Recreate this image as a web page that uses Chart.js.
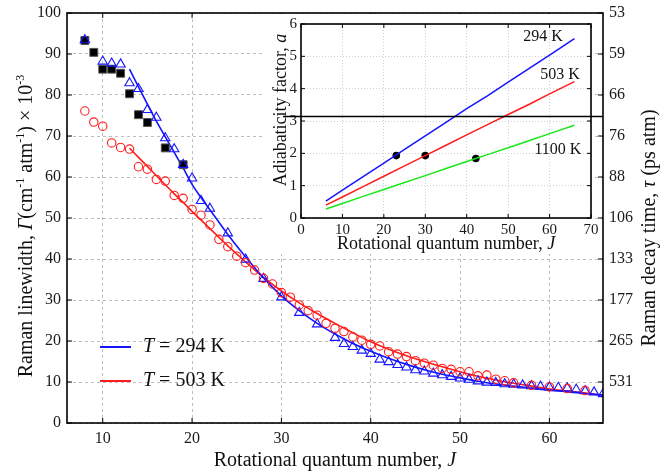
<!DOCTYPE html>
<html>
<head>
<meta charset="utf-8">
<script src="https://cdn.jsdelivr.net/npm/chart.js@4.4.0/dist/chart.umd.min.js"></script>
<style>
body { margin: 0; background: #fff; }
#wrap { position: relative; width: 670px; height: 472px; }
#main { position: absolute; left: 0; top: 0; }
#insetBox { position: absolute; left: 263px; top: 14px; width: 341px; height: 240px; }
</style>
</head>
<body>
<div id="wrap">
  <canvas id="main" width="670" height="472"></canvas>
  <div id="insetBox"><canvas id="inset" width="341" height="240"></canvas></div>
</div>
<script>
// main panel: linewidth vs J
const J294 = [8,10,11,12,13,14,15,16,17,18,19,20,21,22,24,26,28,30,32,34,36,37,38,39,40,41,42,43,44,45,46,47,48,49,50,51,52,53,54,55,56,57,58,59,60,61,62,63,64,65,66];
const G294 = [93.4,88.2,87.7,87.5,82.9,81.5,76.4,74.5,69.5,66.8,63,59.7,54.2,52.3,46.3,39.9,35.2,30.7,26.9,24.1,20.8,19.3,18.6,17.7,16.9,15.5,14.9,14.2,13.6,12.9,12.6,12.1,11.7,11.3,10.9,10.6,10.2,9.9,9.8,9.5,9.4,9.2,9.0,8.9,8.7,8.6,8.5,8.2,7.8,7.5,7.1];

const J503 = [8,9,10,11,12,13,14,15,16,17,18,19,20,21,22,23,24,25,26,27,28,29,30,31,32,33,34,35,36,37,38,39,40,41,42,43,44,45,46,47,48,49,50,51,52,53,54,55,56,58,60,62,64];
const G503 = [76.1,73.4,72.4,68.3,67.2,66.8,62.5,61.9,59.4,59.0,55.5,54.8,52.1,50.7,48.3,44.8,43.0,40.7,39.1,37.3,35.3,33.9,31.8,30.7,28.8,27.4,26.3,24.3,23.1,22.3,21.0,20.2,19.2,18.8,17.4,16.8,16.2,15.2,14.6,14.1,13.3,13.1,12.5,12.5,11.5,11.7,10.7,10.3,9.8,9.2,8.8,8.4,7.9];

const Jsq = [8,9,10,11,12,13,14,15,17,19];
const Gsq = [93.3,90.4,86.3,86.3,85.3,80.3,75.2,73.3,67.1,63.0];

const Jfit294 = [13,14,15,16,17,18,19,20,21,22,24,26,28,30,32,34,36,38,40,42,44,46,48,50,52,54,56,58,60,62,64,66];
const Gfit294 = [86.3,82.0,77.8,73.6,69.8,66.0,62.2,58.2,55.0,52.0,46.0,40.5,35.4,31.0,27.4,24.3,21.7,19.4,17.5,15.8,14.3,13.0,11.9,11.0,10.2,9.5,9.0,8.5,8.0,7.6,7.2,6.8];

const Jfit503 = [13,14,15,16,17,18,19,20,22,24,26,28,30,32,34,36,38,40,42,44,46,48,50,52,54,56,58,60,62,64,66];
const Gfit503 = [67.0,64.8,62.6,60.3,58.1,55.9,53.8,51.6,47.4,43.2,39.3,35.5,32.2,29.3,26.7,24.3,22.0,19.8,18.0,16.4,15.0,13.7,12.5,11.4,10.5,9.7,9.0,8.3,7.8,7.3,6.8];

const xTicks = [10,20,30,40,50,60];
const yTicks = [0,10,20,30,40,50,60,70,80,90,100];
const tauLabels = ['','531','265','177','133','106','88','76','66','59','53'];

// inset: adiabaticity factor
const insetJ = [6,10,15,20,25,30,35,40,45,50,55,60,66];
const a294 = [0.52,0.86,1.28,1.70,2.12,2.54,2.96,3.38,3.78,4.20,4.62,5.04,5.55];
const a503 = [0.40,0.65,0.97,1.29,1.61,1.93,2.25,2.57,2.89,3.20,3.51,3.84,4.22];
const a1100 = [0.28,0.45,0.67,0.88,1.10,1.31,1.53,1.75,1.96,2.17,2.39,2.61,2.87];
const dotJ = [23,30,42.2];
const dotA = [1.93,1.93,1.84];
const aCritical = 3.14;
const insetXTicks = [0,10,20,30,40,50,60,70];
const insetYTicks = [0,1,2,3,4,5,6];

const BLUE = '#1414ff';
const RED = '#ff1c1c';
const GREEN = '#18e818';
const SERIF = '"Liberation Serif", "Times New Roman", serif';

Chart.defaults.font.family = SERIF;
Chart.defaults.color = '#1a1a1a';

const pts = (xs, ys) => xs.map((x, i) => ({x: x, y: ys[i]}));

// text with italic / superscript pieces
function richText(c, parts, x, y, size, rot, align) {
  c.save();
  c.translate(x, y);
  c.rotate(rot || 0);
  const fontOf = p => (p[1] === 'i' ? 'italic ' : '') + (p[1] === 'sup' ? Math.round(size * 0.62) : size) + 'px ' + SERIF;
  let total = 0;
  parts.forEach(p => { c.font = fontOf(p); total += c.measureText(p[0]).width; });
  let cx = align === 'left' ? 0 : -total / 2;
  c.textAlign = 'left';
  c.textBaseline = 'middle';
  c.fillStyle = '#111';
  parts.forEach(p => {
    c.font = fontOf(p);
    c.fillText(p[0], cx, p[1] === 'sup' ? -size * 0.33 : 0);
    cx += c.measureText(p[0]).width;
  });
  c.restore();
}

function inwardTicks(c, a, sx, sy, xs, ys, len) {
  c.beginPath();
  xs.forEach(v => {
    const p = sx.getPixelForValue(v);
    c.moveTo(p, a.bottom); c.lineTo(p, a.bottom - len);
    c.moveTo(p, a.top); c.lineTo(p, a.top + len);
  });
  ys.forEach(v => {
    const p = sy.getPixelForValue(v);
    c.moveTo(a.left, p); c.lineTo(a.left + len, p);
    c.moveTo(a.right, p); c.lineTo(a.right - len, p);
  });
  c.stroke();
}

const mainDeco = {
  id: 'mainDeco',
  beforeDraw(chart) {
    const c = chart.ctx;
    c.save(); c.fillStyle = '#fff'; c.fillRect(0, 0, chart.width, chart.height); c.restore();
  },
  afterDraw(chart) {
    const c = chart.ctx, a = chart.chartArea;
    c.save();
    c.strokeStyle = '#000';
    c.lineWidth = 1;
    inwardTicks(c, a, chart.scales.x, chart.scales.y, xTicks, yTicks, 5);
    c.lineWidth = 1.6;
    c.strokeRect(a.left, a.top, a.right - a.left, a.bottom - a.top);

    richText(c, [['Raman linewidth, ', ''], ['Γ', 'i'], ['(cm', ''], ['-1', 'sup'], [' atm', ''], ['-1', 'sup'], [') × 10', ''], ['-3', 'sup']], 27, 226, 20, -Math.PI / 2);
    richText(c, [['Raman decay time, ', ''], ['τ', 'i'], [' (ps atm)', '']], 650, 228, 20, -Math.PI / 2);
    richText(c, [['Rotational quantum number, ', ''], ['J', 'i']], (a.left + a.right) / 2, 461, 20, 0);

    // legend
    c.lineWidth = 2;
    c.strokeStyle = BLUE;
    c.beginPath(); c.moveTo(100, 347); c.lineTo(131, 347); c.stroke();
    c.strokeStyle = RED;
    c.beginPath(); c.moveTo(100, 381); c.lineTo(131, 381); c.stroke();
    richText(c, [['T', 'i'], [' = 294 K', '']], 143, 347, 20, 0, 'left');
    richText(c, [['T', 'i'], [' = 503 K', '']], 143, 381, 20, 0, 'left');
    c.restore();
  }
};

new Chart(document.getElementById('main'), {
  type: 'scatter',
  data: {
    datasets: [
      { data: pts(J503, G503), pointStyle: 'circle', pointRadius: 4.2, borderColor: RED, backgroundColor: 'rgba(0,0,0,0)', borderWidth: 1.1 },
      { data: pts(J294, G294), pointStyle: 'triangle', pointRadius: 5.4, borderColor: BLUE, backgroundColor: 'rgba(0,0,0,0)', borderWidth: 1.1 },
      { data: pts(Jsq, Gsq), pointStyle: 'rect', pointRadius: 5.6, borderColor: '#555', backgroundColor: '#000', borderWidth: 1 },
      { data: pts(Jfit294, Gfit294), showLine: true, pointRadius: 0, borderColor: BLUE, borderWidth: 1.6, cubicInterpolationMode: 'monotone' },
      { data: pts(Jfit503, Gfit503), showLine: true, pointRadius: 0, borderColor: RED, borderWidth: 1.6, cubicInterpolationMode: 'monotone' }
    ]
  },
  options: {
    responsive: false,
    animation: false,
    layout: { padding: { top: 13, left: 0, right: 0, bottom: 0 } },
    plugins: { legend: { display: false }, tooltip: { enabled: false } },
    scales: {
      x: {
        type: 'linear', min: 6, max: 66,
        afterBuildTicks: s => { s.ticks = xTicks.map(v => ({value: v})); },
        afterFit: s => { s.height = 49; },
        grid: { color: '#bdbdbd', drawTicks: false },
        border: { display: false, dash: [3, 3] },
        ticks: { font: { size: 16 }, padding: 6 }
      },
      y: {
        min: 0, max: 100,
        afterBuildTicks: s => { s.ticks = yTicks.map(v => ({value: v})); },
        afterFit: s => { s.width = 67; },
        grid: { color: '#bdbdbd', drawTicks: false },
        border: { display: false, dash: [3, 3] },
        ticks: { font: { size: 16, lineHeight: 0.8 }, padding: 6 }
      },
      y2: {
        position: 'right', min: 0, max: 100,
        afterBuildTicks: s => { s.ticks = yTicks.map(v => ({value: v})); },
        afterFit: s => { s.width = 67; },
        grid: { display: false, drawTicks: false },
        border: { display: false },
        ticks: { font: { size: 16, lineHeight: 0.8 }, padding: 6, callback: v => tauLabels[yTicks.indexOf(v)] }
      }
    }
  },
  plugins: [mainDeco]
});

const insetDeco = {
  id: 'insetDeco',
  beforeDraw(chart) {
    const c = chart.ctx, a = chart.chartArea;
    c.save(); c.fillStyle = '#fff'; c.fillRect(0, 0, a.right + 1, chart.height); c.restore();
  },
  afterDraw(chart) {
    const c = chart.ctx, a = chart.chartArea, sx = chart.scales.x, sy = chart.scales.y;
    c.save();
    c.strokeStyle = '#000';
    c.lineWidth = 1;
    inwardTicks(c, a, sx, sy, insetXTicks, insetYTicks, 4);
    c.lineWidth = 1.6;
    c.strokeRect(a.left, a.top, a.right - a.left, a.bottom - a.top);
    const py = sy.getPixelForValue(aCritical);
    c.beginPath(); c.moveTo(20, py); c.lineTo(chart.width - 1, py); c.stroke();

    c.font = '16px ' + SERIF;
    c.fillStyle = '#111';
    c.textAlign = 'center';
    c.textBaseline = 'middle';
    c.fillText('294 K', sx.getPixelForValue(58.4), sy.getPixelForValue(5.6));
    c.fillText('503 K', sx.getPixelForValue(62.5), sy.getPixelForValue(4.42));
    c.fillText('1100 K', sx.getPixelForValue(62), sy.getPixelForValue(2.12));

    richText(c, [['Rotational quantum number, ', ''], ['J', 'i']], (a.left + a.right) / 2, 230, 18, 0);
    richText(c, [['Adiabaticity factor, ', ''], ['a', 'i']], 18, 96, 18, -Math.PI / 2);
    c.restore();
  }
};

new Chart(document.getElementById('inset'), {
  type: 'scatter',
  data: {
    datasets: [
      { data: pts(insetJ, a294), showLine: true, pointRadius: 0, borderColor: BLUE, borderWidth: 1.5 },
      { data: pts(insetJ, a503), showLine: true, pointRadius: 0, borderColor: RED, borderWidth: 1.5 },
      { data: pts(insetJ, a1100), showLine: true, pointRadius: 0, borderColor: GREEN, borderWidth: 1.5 },
      { data: pts(dotJ, dotA), pointRadius: 3.8, backgroundColor: '#000', borderColor: '#000', borderWidth: 0 }
    ]
  },
  options: {
    responsive: false,
    animation: false,
    layout: { padding: { top: 0, right: 13, left: 0, bottom: 0 } },
    plugins: { legend: { display: false }, tooltip: { enabled: false } },
    scales: {
      x: {
        type: 'linear', min: 0, max: 70,
        afterBuildTicks: s => { s.ticks = insetXTicks.map(v => ({value: v})); },
        afterFit: s => { s.height = 36; },
        grid: { color: '#cfcfcf', drawTicks: false },
        border: { display: false, dash: [1, 2] },
        ticks: { font: { size: 15 }, padding: 3 }
      },
      y: {
        min: 0, max: 6,
        afterBuildTicks: s => { s.ticks = insetYTicks.map(v => ({value: v})); },
        afterFit: s => { s.width = 38; },
        grid: { color: '#cfcfcf', drawTicks: false },
        border: { display: false, dash: [1, 2] },
        ticks: { font: { size: 15, lineHeight: 0.8 }, padding: 4 }
      }
    }
  },
  plugins: [insetDeco]
});
</script>
</body>
</html>
